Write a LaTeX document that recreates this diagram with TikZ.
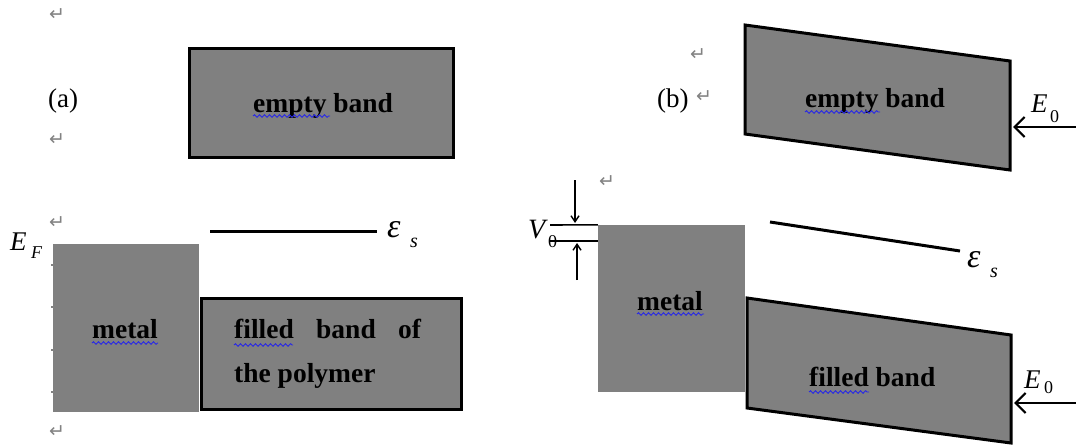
\documentclass[tikz,border=0pt]{standalone}
\usepackage{fontspec}
\setmainfont{Liberation Serif}
\newfontfamily\symfont{DejaVu Sans}
\usetikzlibrary{arrows.meta,decorations.pathmorphing,calc}
\definecolor{bandgray}{RGB}{128,128,128}
\definecolor{markgray}{RGB}{130,130,130}
\definecolor{wavyblue}{RGB}{40,40,230}
\begin{document}
\begin{tikzpicture}[x=1pt,y=-1pt,
  lbl/.style={font=\fontsize{27.5}{33}\selectfont\bfseries, inner sep=0pt, anchor=base west},
  plainlbl/.style={font=\fontsize{27}{32}\selectfont, inner sep=0pt, anchor=base west},
  mathlbl/.style={font=\fontsize{27}{32}\selectfont\itshape, inner sep=0pt, anchor=base west},
  epslbl/.style={font=\fontsize{34}{38}\selectfont\itshape, inner sep=0pt, anchor=base west},
  sublbl/.style={font=\fontsize{18}{20}\selectfont, inner sep=0pt, anchor=base west},
  band/.style={fill=bandgray, draw=black, line width=3pt, line join=miter},
  metalbox/.style={fill=bandgray, draw=none, inner sep=0pt},
  level/.style={line width=3pt},
  thinlevel/.style={line width=1.6pt},
  pmark/.style={font=\symfont\fontsize{19}{19}\selectfont, text=markgray, inner sep=0pt},
  wavy/.style={wavyblue, line width=0.9pt, decorate, decoration={snake, amplitude=1.3pt, segment length=5pt}},
  field/.style={line width=2.2pt, -{Straight Barb[length=10pt,width=20pt,line width=2.2pt]}},
  vmark/.style={line width=1.4pt, -{Straight Barb[length=6pt,width=8pt,line width=1.4pt]}},
  tick/.style={markgray, line width=1.5pt}
]
\useasboundingbox (0,0) rectangle (1076,447);

% ---------------- panel (a) ----------------
\node[pmark] (pa1) at (57,15) {↵};
\node[plainlbl] (la) at (48,107) {(a)};
\node[pmark] (pa2) at (57,140) {↵};
\node[pmark] (pa3) at (57,223) {↵};
\node[pmark] (pa4) at (57,432) {↵};

\node[band, inner sep=0pt, minimum width=264pt, minimum height=109pt] (emptyA) at (321.5,103) {};
\node[lbl] (emptyAtxt) at (253,112) {empty band};
\draw[wavy] (253,116) -- (330,116);

\node[metalbox, minimum width=146pt, minimum height=168pt] (metalA) at (126,328) {};
\node[lbl] (metalAtxt) at (92,338) {metal};
\draw[wavy] (92,343) -- (158,343);
\foreach \yy in {265,307,350,392} \draw[tick] (51,\yy) -- (54,\yy);

\node[band, inner sep=0pt, minimum width=260pt, minimum height=111pt] (filledA) at (331.5,354) {};
\node[lbl] (fA1) at (234,338) {filled};
\node[lbl] (fA2) at (316,338) {band};
\node[lbl] (fA3) at (398,338) {of};
\node[lbl] (fA4) at (234,382) {the polymer};
\draw[wavy] (234,345) -- (293,345);

\node[mathlbl] (EF) at (10,250) {E};
\node[sublbl, font=\fontsize{18}{20}\selectfont\itshape] (EFsub) at (31,258) {F};

\coordinate (esA1) at (210,231);
\coordinate (esA2) at (377,231);
\draw[level] (esA1) -- (esA2);
\node[epslbl] (epsA) at (387,237) {ε};
\node[sublbl, font=\fontsize{20}{20}\selectfont\itshape] (epsAsub) at (410,247) {s};

% ---------------- panel (b) ----------------
\node[pmark] (pb1) at (698,55) {↵};
\node[plainlbl] (lb) at (657,107) {(b)};
\node[pmark] (pb2) at (704,97) {↵};
\node[pmark] (pb3) at (607,182) {↵};

\coordinate (ebTL) at (745,25);
\coordinate (ebTR) at (1010,61);
\coordinate (ebBR) at (1010,170);
\coordinate (ebBL) at (745,134);
\draw[band] (ebTL) -- (ebTR) -- (ebBR) -- (ebBL) -- cycle;
\node[lbl] (emptyBtxt) at (805,107) {empty band};
\draw[wavy] (805,112) -- (880,112);

\coordinate (e0aStart) at (1076,127);
\coordinate (e0aEnd) at (1013,127);
\draw[field] (e0aStart) -- (e0aEnd);
\node[mathlbl] (E0a) at (1031,112) {E};
\node[sublbl] (E0asub) at (1050,122) {0};

\node[metalbox, minimum width=147pt, minimum height=167pt] (metalB) at (671.5,308.5) {};
\node[lbl] (metalBtxt) at (637,310) {metal};
\draw[wavy] (637,314) -- (704,314);

\coordinate (v0l1) at (550,225);
\coordinate (v0l2) at (550,241);
\draw[thinlevel] (v0l1) -- (metalB.north west);
\draw[thinlevel] (v0l2) -- (metalB.west |- v0l2);
\coordinate (v0t) at (575,180);
\coordinate (v0tE) at (575,223);
\coordinate (v0b) at (577,280);
\coordinate (v0bE) at (577,243);
\draw[vmark] (v0t) -- (v0tE);
\draw[vmark] (v0b) -- (v0bE);
\node[mathlbl, font=\fontsize{28}{32}\selectfont\itshape] (V0) at (528,238) {V};
\node[sublbl] (V0sub) at (548,247) {0};

\coordinate (fbTL) at (747,298);
\coordinate (fbTR) at (1011,335);
\coordinate (fbBR) at (1011,443);
\coordinate (fbBL) at (747,408);
\draw[band] (fbTL) -- (fbTR) -- (fbBR) -- (fbBL) -- cycle;
\node[lbl] (filledBtxt) at (809,386) {filled band};
\draw[wavy] (809,392) -- (869,392);

\coordinate (esB1) at (770,222);
\coordinate (esB2) at (960,251);
\draw[level] (esB1) -- (esB2);
\node[epslbl] (epsB) at (967,267) {ε};
\node[sublbl, font=\fontsize{20}{20}\selectfont\itshape] (epsBsub) at (990,277) {s};

\coordinate (e0bStart) at (1076,403);
\coordinate (e0bEnd) at (1014,403);
\draw[field] (e0bStart) -- (e0bEnd);
\node[mathlbl] (E0b) at (1024,388) {E};
\node[sublbl] (E0bsub) at (1044,393) {0};
\end{tikzpicture}
\end{document}
